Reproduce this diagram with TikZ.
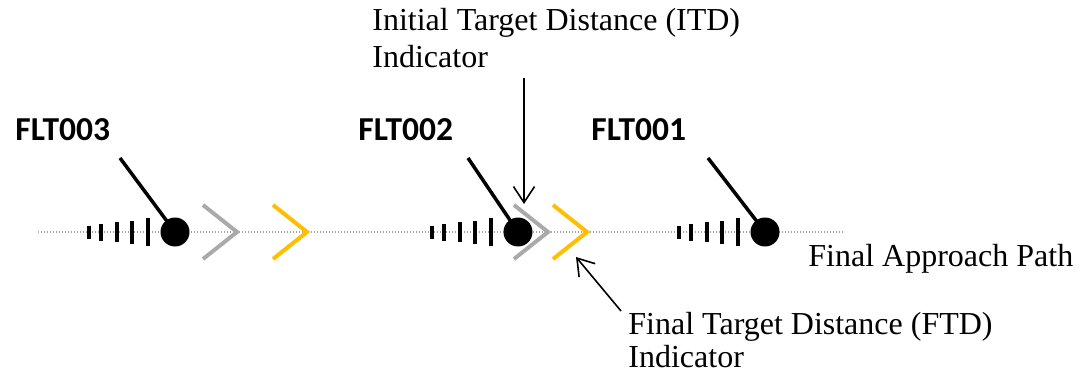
\documentclass[tikz,border=0pt]{standalone}
\usepackage{fontspec}
\setmainfont{Liberation Serif}
\newfontfamily\callsign{Carlito}
\usepackage{tikz}
\usetikzlibrary{arrows.meta, calc}
\definecolor{chevgray}{RGB}{170, 170, 170}
\definecolor{chevgold}{RGB}{255, 190, 0}
\definecolor{pathgray}{RGB}{165, 165, 165}
\newcommand{\bigtext}{\fontsize{32}{36}\selectfont}

\begin{document}
\begin{tikzpicture}[x=1pt, y=-1pt, thick,
  plane/.style={circle, fill=black, inner sep=0pt, minimum size=29pt},
  tag/.style={anchor=base west, inner sep=0pt, font=\callsign\bfseries\fontsize{33.5}{36}\selectfont},
  note/.style={anchor=north west, inner sep=0pt, align=left, font=\bigtext},
  leader/.style={line width=3.5pt},
  chev/.style={line width=4pt, line join=miter},
  ptr/.style={line width=1.6pt, -{Straight Barb[length=16pt, width=21pt, line width=1.6pt]}}]

  \useasboundingbox (0, 0) rectangle (1086, 374);

  % final approach path
  \draw[pathgray, line width=1.4pt, dash pattern=on 1.4pt off 1.6pt] (38, 232) -- (845, 232);

  % aircraft on final
  \foreach \n/\cx/\lx/\tx in {3/175/15/120, 2/518/358/468, 1/765/591/708} {
    \node[plane] (ac\n) at (\cx, 232) {};
    \node[tag] (flt\n) at (\lx, 141) {FLT00\n};
    \coordinate (tail\n) at (\tx, 158);
    \draw[leader] (tail\n) -- (ac\n.center);
    \foreach \dx/\h in {-86/13, -74/17, -58/20, -43/23, -27/28} {
      \fill ($(ac\n.center) + (\dx-2, -\h/2)$) rectangle ++(4, \h);
    }
  }

  % target distance chevrons
  \foreach \ax/\col in {237/chevgray, 307/chevgold, 548/chevgray, 587/chevgold} {
    \draw[chev, \col] (\ax-34, 205) -- (\ax, 232) -- (\ax-34, 259);
  }

  % labels
  \node[note] (itd) at (372, 8) {Initial Target Distance (ITD)\\[1pt]Indicator};
  \node[note] (ftd) at (628, 312) {Final Target Distance (FTD)\\[-3pt]Indicator};
  \node[anchor=base west, inner sep=0pt, font=\bigtext] (fap) at (808, 266) {Final Approach Path};

  \coordinate (itdtail) at (524, 78);
  \coordinate (itdtip) at (524, 204);
  \draw[ptr] (itdtail) -- (itdtip);

  \coordinate (ftdtail) at (621, 311);
  \coordinate (ftdtip) at (576, 257);
  \draw[ptr] (ftdtail) -- (ftdtip);

\end{tikzpicture}
\end{document}
